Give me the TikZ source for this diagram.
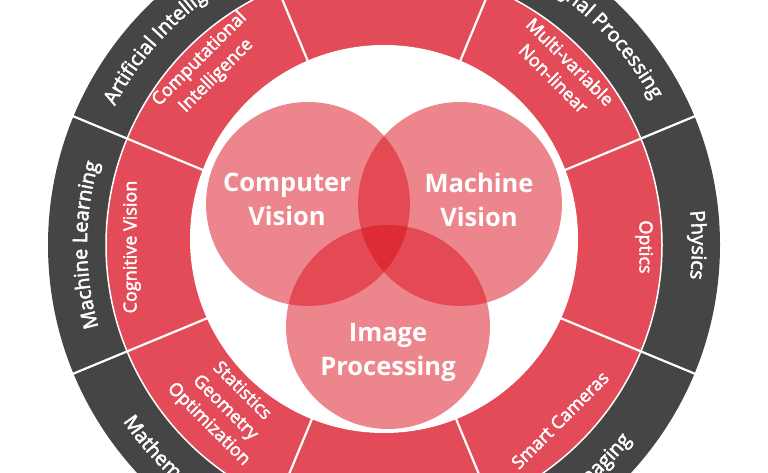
\documentclass[tikz,border=0pt]{standalone}
\usepackage{fontspec}
\setmainfont{Open Sans}
\newfontfamily\semiopen[FakeBold=2.5]{Open Sans}
\usetikzlibrary{decorations.text}
\definecolor{ringdark}{RGB}{69,69,69}
\definecolor{ringred}{RGB}{226,75,87}
\definecolor{vennred}{RGB}{219,15,27}
\newcommand\darkringfont{\semiopen\fontsize{20}{24}\selectfont}
\newcommand\redringfont{\semiopen\fontsize{18}{23.5}\selectfont}
\newcommand\vennfont{\fontsize{25.5}{34.3}\selectfont\bfseries}
\tikzset{
  divider/.style={white, line width=2.2pt},
  venncircle/.style={fill=vennred, fill opacity=0.5},
  venntext/.style={text=white, align=center, font=\vennfont, inner sep=0pt},
  redtext/.style={text=white, align=center, font=\redringfont, inner sep=0pt},
  darklabel/.style={decorate, decoration={text along path, text={|\darkringfont|#1}, text align=center, text color=white}}
}
\begin{document}
\begin{tikzpicture}[x=1pt,y=1pt]
\path[use as bounding box] (0,0) rectangle (768,473);
\clip (0,0) rectangle (768,473);
\fill[white] (0,0) rectangle (768,473);
\begin{scope}[shift={(384,228)}]
  \fill[ringdark] (0,0) circle[radius=336];
  \fill[ringred] (0,0) circle[radius=278];
  \draw[white, line width=1.5pt] (0,0) circle[radius=278];
  \foreach \a in {22.5,67.5,...,337.5}
    \draw[divider] (\a:150) -- (\a:337);
  \path[darklabel={Artificial Intelligence}] (157.5:303) arc[start angle=157.5, end angle=112.5, radius=303];
  \path[darklabel={Signal Processing}] (66:305) arc[start angle=66, end angle=21, radius=305];
  \path[darklabel={Physics}] (22.5:308) arc[start angle=22.5, end angle=-22.5, radius=308];
  \path[darklabel={Machine Learning}] (202.5:297) arc[start angle=202.5, end angle=157.5, radius=297];
  \path[darklabel={Mathematics}] (202.5:315) arc[start angle=202.5, end angle=247.5, radius=315];
  \path[darklabel={Imaging}] (292.5:315) arc[start angle=292.5, end angle=337.5, radius=315];
\end{scope}
\fill[white] (384,234) circle[radius=194];
\fill[venncircle] (308,269) circle[radius=102];
\fill[venncircle] (460,269) circle[radius=102];
\fill[venncircle] (388,146) circle[radius=102];
\node[venntext] (cv) at (287,273.4) {Computer\\Vision};
\node[venntext] (mv) at (479,273.4) {Machine\\Vision};
\node[venntext] (ip) at (388,120.4) {Image\\Processing};
\node[redtext, rotate=45] (ci) at (208,405.5) {Computational\\Intelligence};
\node[redtext, rotate=-45] (mn) at (562,403) {Multi-variable\\Non-linear};
\node[redtext, rotate=-90] (op) at (644,226) {Optics};
\node[redtext, rotate=45] (sc) at (560,53) {Smart Cameras};
\node[redtext, rotate=-45] (sg) at (225,65) {Statistics\\Geometry\\Optimization};
\node[redtext, rotate=90] (cg) at (132,226) {Cognitive Vision};
\end{tikzpicture}
\end{document}
